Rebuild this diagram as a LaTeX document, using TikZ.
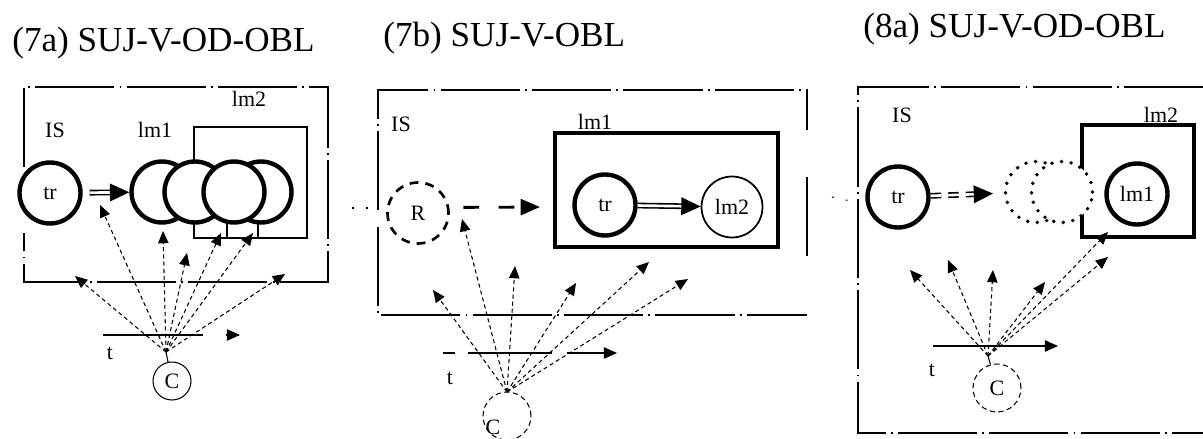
\documentclass[tikz,border=0pt]{standalone}
\usepackage{fontspec}
\setmainfont{Liberation Serif}
\usetikzlibrary{arrows.meta}
\newcommand{\ttlfont}{\fontsize{20}{23}\selectfont}
\newcommand{\lblfont}{\fontsize{12.5}{14}\selectfont}
\tikzset{
  ttl/.style={font=\ttlfont, inner sep=0pt, anchor=base west},
  lbl/.style={font=\lblfont, inner sep=0pt},
  ring/.style={circle, draw, fill=white, line width=2.5pt, minimum size=1.22cm,
    inner sep=0pt, font=\lblfont},
  thinring/.style={ring, line width=1pt},
  dashring/.style={ring, line width=1.5pt, dash pattern=on 5pt off 4pt},
  dotring/.style={ring, line width=2.2pt, dash pattern=on 0pt off 5.5pt, line cap=round},
  cring/.style={circle, draw, line width=0.6pt, minimum size=0.76cm, inner sep=0pt, font=\lblfont},
  cdash/.style={cring, minimum size=0.96cm, dash pattern=on 3pt off 2pt},
  isbox/.style={line width=0.8pt, dash pattern=on 45pt off 3pt on 1pt off 3pt},
  lmbox/.style={line width=2.6pt},
  stray/.style={line width=0.6pt, dash pattern=on 1pt off 7pt},
  fan/.style={line width=0.6pt, dash pattern=on 2.3pt off 1.8pt,
    -{Triangle[length=7pt,width=6pt]}},
  tline/.style={line width=0.8pt, -{Triangle[length=7.5pt,width=6.5pt]}},
  dbl/.style={double, double distance=1.5pt, line width=0.9pt,
    -{Triangle[length=11pt,width=10pt]}},
}

\begin{document}
\begin{tikzpicture}[x=0.02cm, y=-0.02cm]
\useasboundingbox (0,0) rectangle (1203,439);
\fill[white] (0,0) rectangle (1203,439);

% (7a)
\node[ttl] (ttlA) at (12,52) {(7a) SUJ-V-OD-OBL};
\draw[isbox] (24,167) |- (328,87) |- (24,282) -- (24,233);
\node[lbl, anchor=base] (isA) at (55,137) {IS};
\node[lbl, anchor=base] (lmoneA) at (155,137) {lm1};
\node[lbl, anchor=base] (lmtwoA) at (249,107) {lm2};
\draw[line width=1.3pt] (194,127) rectangle (307,238);
\node[ring] (cA1) at (162,192) {};
\node[ring] (cA2) at (195,192) {};
\node[ring] (cA4) at (261,192) {};
\node[ring] (cA3) at (234,192) {};
\draw[line width=1.3pt] (227,222) -- (227,238);
\draw[line width=1.3pt] (258,222) -- (258,238);
\node[ring] (trA) at (50,193) {tr};
\draw[dbl, shorten <=4pt] (trA) -- (cA1);

\node[cring] (cA) at (172,381) {C};
\coordinate (oA) at (166,352);
\coordinate (pA1) at (100,205);
\coordinate (pA2) at (163,231);
\coordinate (pA3) at (187,253);
\coordinate (pA4) at (221,233);
\coordinate (pA5) at (253,233);
\coordinate (pA6) at (75,276);
\coordinate (pA7) at (285,274);
\draw[line width=0.6pt] (cA) -- (oA);
\draw[fan] (oA) -- (pA1);
\draw[fan] (oA) -- (pA2);
\draw[fan] (oA) -- (pA3);
\draw[fan] (oA) -- (pA4);
\draw[fan] (oA) -- (pA5);
\draw[fan] (oA) -- (pA6);
\draw[fan] (oA) -- (pA7);
\coordinate (tA0) at (103,335);
\coordinate (tA1) at (240,335);
\draw[tline, dash pattern=on 57pt off 13pt on 20pt] (tA0) -- (tA1);
\node[lbl] (tA) at (110,353) {t};

% (7b)
\node[ttl] (ttlB) at (383,47) {(7b) SUJ-V-OBL};
\draw[isbox] (378,210) |- (807,90) -- (807,130);
\draw[isbox] (807,177) -- (807,260);
\draw[isbox] (378,227) |- (807,315);
\draw[stray] (352,208) -- (372,208);
\node[lbl, anchor=base] (isB) at (401,132) {IS};
\node[lbl, anchor=base] (lmoneB) at (595,130) {lm1};
\draw[lmbox] (555,133) rectangle (778,247);
\node[ring] (trB) at (605,205) {tr};
\node[thinring] (lmtwoB) at (732,207) {lm2};
\draw[dbl] (trB) -- (lmtwoB);
\node[dashring] (rB) at (418,213) {R};
\coordinate (qB) at (540,207);
\draw[line width=1.6pt, dash pattern=on 9pt off 11pt, shorten <=8pt,
  -{Triangle[length=11pt,width=9pt]}] (rB.10) -- (qB);

\node[cdash] (cB) at (507,416) {};
\node[lbl] (cBt) at (493,427) {C};
\coordinate (oB) at (507,392);
\coordinate (pB1) at (433,290);
\coordinate (pB2) at (462,219);
\coordinate (pB3) at (515,266);
\coordinate (pB4) at (576,283);
\coordinate (pB5) at (649,262);
\coordinate (pB6) at (688,279);
\draw[fan] (oB) -- (pB1);
\draw[fan] (oB) -- (pB2);
\draw[fan] (oB) -- (pB3);
\draw[fan] (oB) -- (pB4);
\draw[fan] (oB) -- (pB5);
\draw[fan] (oB) -- (pB6);
\coordinate (tB0) at (443,353);
\coordinate (tB1) at (617,353);
\draw[tline, dash pattern=on 7pt off 7pt on 48pt off 8.5pt on 40pt] (tB0) -- (tB1);
\node[lbl] (tB) at (450,378) {t};

% (8a)
\node[ttl] (ttlC) at (863,38) {(8a) SUJ-V-OD-OBL};
\draw[isbox] (1203,87) -| (858,433) -- (1203,433);
\draw[stray] (832,197) -- (855,202);
\node[lbl, anchor=base] (isC) at (902,123) {IS};
\node[lbl, anchor=base] (lmtwoC) at (1161,123) {lm2};
\draw[lmbox] (1082,125) rectangle (1194,237);
\node[ring] (trC) at (898,197) {tr};
\node[dotring] (dC1) at (1036,192) {};
\node[dotring] (dC2) at (1062,192) {};
\node[ring] (lmoneC) at (1137,194) {lm1};
\draw[dbl, dash pattern=on 6pt off 4pt, shorten >=6pt] (trC) -- (dC1);

\node[cdash] (cC) at (997,388) {C};
\coordinate (oC) at (988,356);
\coordinate (pC1) at (910,270);
\coordinate (pC2) at (948,260);
\coordinate (pC3) at (993,270);
\coordinate (pC4) at (1045,282);
\coordinate (pC5) at (1108,257);
\coordinate (pC6) at (1108,232);
\draw[line width=0.6pt] (cC) -- (oC);
\draw[fan] (oC) -- (pC1);
\draw[fan] (oC) -- (pC2);
\draw[fan] (oC) -- (pC3);
\draw[fan] (oC) -- (pC4);
\draw[fan] (oC) -- (pC5);
\draw[fan] (oC) -- (pC6);
\coordinate (tC0) at (933,346);
\coordinate (tC1) at (1058,346);
\draw[tline] (tC0) -- (tC1);
\node[lbl] (tC) at (932,370) {t};
\end{tikzpicture}
\end{document}
